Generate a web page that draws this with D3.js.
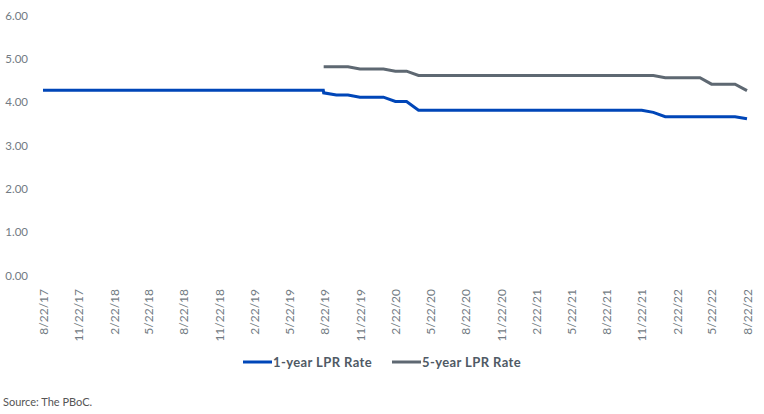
<!DOCTYPE html>
<html lang="en">
<head>
  <meta charset="utf-8">
  <title>LPR Rate</title>
  <script src="https://cdn.jsdelivr.net/npm/d3@7"></script>
  <style>
    body { margin: 0; background: #fff; }
    svg { display: block; font-family: Lato, "Open Sans", sans-serif; }
  </style>
</head>
<body>
  <div id="chart-area"></div>

  <script>
    // data
    var dates = [
      "8/22/17", "9/22/17", "10/22/17", "11/22/17", "12/22/17",
      "1/22/18", "2/22/18", "3/22/18", "4/22/18", "5/22/18", "6/22/18",
      "7/22/18", "8/22/18", "9/22/18", "10/22/18", "11/22/18", "12/22/18",
      "1/22/19", "2/22/19", "3/22/19", "4/22/19", "5/22/19", "6/22/19",
      "7/22/19", "8/19/19", "8/20/19", "9/22/19", "10/22/19", "11/22/19", "12/22/19",
      "1/22/20", "2/22/20", "3/22/20", "4/22/20", "5/22/20", "6/22/20",
      "7/22/20", "8/22/20", "9/22/20", "10/22/20", "11/22/20", "12/22/20",
      "1/22/21", "2/22/21", "3/22/21", "4/22/21", "5/22/21", "6/22/21",
      "7/22/21", "8/22/21", "9/22/21", "10/22/21", "11/22/21", "12/22/21",
      "1/22/22", "2/22/22", "3/22/22", "4/22/22", "5/22/22", "6/22/22",
      "7/22/22", "8/22/22"
    ];

    var oneYear = [
      4.31, 4.31, 4.31, 4.31, 4.31,
      4.31, 4.31, 4.31, 4.31, 4.31, 4.31,
      4.31, 4.31, 4.31, 4.31, 4.31, 4.31,
      4.31, 4.31, 4.31, 4.31, 4.31, 4.31,
      4.31, 4.31, 4.25, 4.20, 4.20, 4.15, 4.15,
      4.15, 4.05, 4.05, 3.85, 3.85, 3.85,
      3.85, 3.85, 3.85, 3.85, 3.85, 3.85,
      3.85, 3.85, 3.85, 3.85, 3.85, 3.85,
      3.85, 3.85, 3.85, 3.85, 3.85, 3.80,
      3.70, 3.70, 3.70, 3.70, 3.70, 3.70,
      3.70, 3.65
    ];

    var fiveYear = [
      null, null, null, null, null,
      null, null, null, null, null, null,
      null, null, null, null, null, null,
      null, null, null, null, null, null,
      null, null, 4.85, 4.85, 4.85, 4.80, 4.80,
      4.80, 4.75, 4.75, 4.65, 4.65, 4.65,
      4.65, 4.65, 4.65, 4.65, 4.65, 4.65,
      4.65, 4.65, 4.65, 4.65, 4.65, 4.65,
      4.65, 4.65, 4.65, 4.65, 4.65, 4.65,
      4.60, 4.60, 4.60, 4.60, 4.45, 4.45,
      4.45, 4.30
    ];

    var tickLabels = [
      "8/22/17", "11/22/17", "2/22/18", "5/22/18", "8/22/18", "11/22/18",
      "2/22/19", "5/22/19", "8/22/19", "11/22/19", "2/22/20", "5/22/20",
      "8/22/20", "11/22/20", "2/22/21", "5/22/21", "8/22/21", "11/22/21",
      "2/22/22", "5/22/22", "8/22/22"
    ];
    var yTicks = [0, 1, 2, 3, 4, 5, 6];

    var seriesNames = ["1-year LPR Rate", "5-year LPR Rate"];
    var seriesColors = ["#0046b8", "#5e6872"];

    var svgWidth = 764;
    var svgHeight = 414;
    var parse = d3.timeParse("%m/%d/%y");

    var svg = d3.select("#chart-area")
                .append("svg")
                .attr("width", svgWidth)
                .attr("height", svgHeight);

    var x = d3.scaleTime()
              .domain([parse(tickLabels[0]), parse(tickLabels[tickLabels.length - 1])])
              .range([43, 747]);

    var y = d3.scaleLinear()
              .domain([0, 6])
              .range([277, 17]);

    // y axis (labels only)
    var yAxis = svg.append("g")
                   .attr("transform", "translate(30,0)")
                   .call(d3.axisLeft(y).tickValues(yTicks).tickFormat(d3.format(".2f")).tickSize(0));
    yAxis.select(".domain").remove();
    yAxis.selectAll("text")
         .attr("x", -2)
         .attr("dy", "0.2em")
         .attr("fill", "#727b83")
         .style("font-size", "11.5px")
         .style("font-family", "Lato, sans-serif");

    // x axis (rotated labels)
    var xAxis = svg.append("g")
                   .attr("transform", "translate(0,287)")
                   .call(d3.axisBottom(x)
                           .tickValues(tickLabels.map(parse))
                           .tickFormat(d3.timeFormat("%-m/%-d/%y"))
                           .tickSize(0));
    xAxis.select(".domain").remove();
    xAxis.selectAll("text")
         .attr("transform", "rotate(-90)")
         .attr("text-anchor", "end")
         .attr("x", -2)
         .attr("y", 0)
         .attr("dy", "0.35em")
         .attr("fill", "#727b83")
         .style("font-size", "12px")
         .style("font-family", "Lato, sans-serif");

    // lines
    var rows = dates.map(function(d, i) {
      return { date: parse(d), one: oneYear[i], five: fiveYear[i] };
    });

    var line1 = d3.line()
                  .x(function(d) { return x(d.date); })
                  .y(function(d) { return y(d.one); });
    var line5 = d3.line()
                  .x(function(d) { return x(d.date); })
                  .y(function(d) { return y(d.five); });

    svg.append("path")
       .datum(rows)
       .attr("d", line1)
       .attr("fill", "none")
       .attr("stroke", seriesColors[0])
       .attr("stroke-width", 3);

    svg.append("path")
       .datum(rows.filter(function(d) { return d.five != null; }))
       .attr("d", line5)
       .attr("fill", "none")
       .attr("stroke", seriesColors[1])
       .attr("stroke-width", 3);

    // legend
    var legendX = [243, 392];
    var legend = svg.selectAll(".legend")
                    .data(seriesNames)
                    .enter()
                    .append("g")
                    .attr("class", "legend")
                    .attr("transform", function(d, i) { return "translate(" + legendX[i] + ",362)"; });
    legend.append("line")
          .attr("x1", 0).attr("x2", 29)
          .attr("stroke", function(d, i) { return seriesColors[i]; })
          .attr("stroke-width", 3);
    legend.append("text")
          .attr("x", 30)
          .attr("dy", "0.35em")
          .attr("fill", "#4f5a65")
          .style("font-size", "13px")
          .style("letter-spacing", "0.4px")
          .style("font-weight", "bold")
          .text(function(d) { return d; });

    // source note
    svg.append("text")
       .attr("x", 3)
       .attr("y", 406)
       .attr("fill", "#555")
       .style("font-size", "11px")
       .text("Source: The PBoC.");
  </script>
</body>
</html>
